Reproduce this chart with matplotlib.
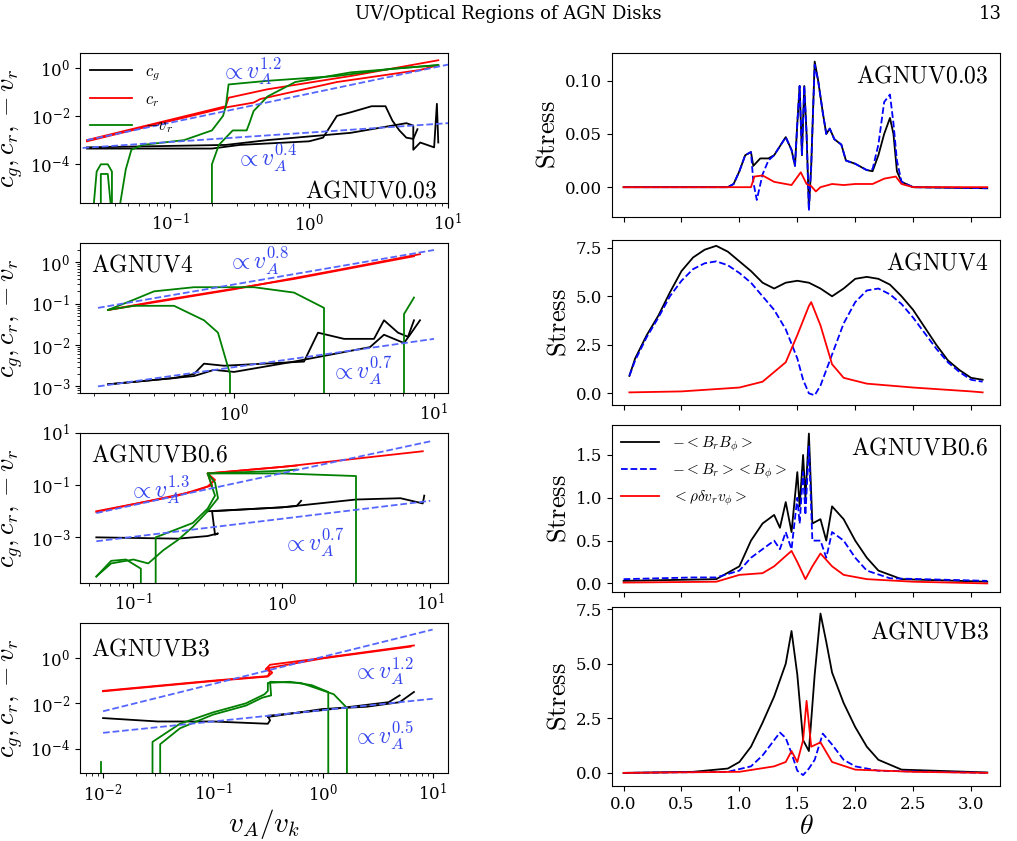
import numpy as np
import matplotlib
matplotlib.use("Agg")
import matplotlib.pyplot as plt

plt.rcParams['mathtext.fontset'] = 'cm'
plt.rcParams['font.family'] = 'serif'
plt.rcParams['font.serif'] = ['DejaVu Serif']
plt.rcParams['xtick.direction'] = 'out'

# ---------------- left column: (log10 x, log10 y) traces ----------------
p1_red = [[(-1.6,-3.0),(-0.6,-1.6),(-0.58,-1.25),(-0.3,-0.9),(0.3,-0.35),(0.93,0.3)],
          [(-1.6,-3.05),(-0.6,-1.65),(-0.4,-1.45),(-0.35,-1.3),(0.2,-0.6),(0.8,-0.1),(0.93,0.1)]]
p1_green = [[(-1.36,-5.6),(-1.32,-4.2),(-1.28,-3.4),(-1.2,-3.2),(-0.9,-3.0),(-0.7,-2.6),(-0.62,-2.0),
             (-0.6,-1.6),(-0.58,-0.7),(-0.3,-0.55),(0.2,-0.35),(0.6,-0.05),(0.93,0.1)],
            [(-0.7,-5.6),(-0.7,-4.0),(-0.65,-3.2),(-0.55,-2.6),(-0.45,-2.6),(-0.43,-2.3),(-0.4,-1.8),
             (-0.3,-1.2),(-0.1,-0.6),(0.3,-0.2),(0.93,0.1)],
            [(-1.55,-5.6),(-1.53,-4.3),(-1.5,-4.0),(-1.45,-4.0),(-1.42,-4.3),(-1.42,-5.6)],
            [(-1.5,-5.6),(-1.5,-4.4),(-1.45,-4.4),(-1.43,-5.6)]]
p1_black = [[(-1.6,-3.35),(-0.7,-3.35),(-0.5,-3.2),(0.0,-3.05),(0.1,-2.9),(0.2,-2.0),(0.3,-1.85),
             (0.45,-1.6),(0.55,-1.6),(0.6,-2.2),(0.65,-2.6),(0.7,-2.9),(0.75,-2.95),(0.78,-2.55)],
            [(-1.6,-3.3),(-0.6,-3.2),(-0.3,-3.0),(0.3,-2.7),(0.7,-2.3),(0.75,-2.4),(0.75,-3.4),
             (0.8,-3.1),(0.9,-3.3),(0.92,-1.5),(0.93,-3.1)]]
p1_fits = [[(-1.6,-3.0),(1.0,0.12)], [(-1.7,-3.35),(1.0,-2.3)]]

p2_red = [[(-0.63,-1.15),(0.0,-0.65),(0.5,-0.2),(0.93,0.2)],
          [(-0.63,-1.15),(-0.4,-0.95),(0.3,-0.4),(0.9,0.15)]]
p2_green = [[(-0.63,-1.15),(-0.5,-0.9),(-0.4,-0.7),(-0.2,-0.6),(0.1,-0.6),(0.3,-0.73),(0.45,-1.1),(0.45,-3.2)],
            [(-0.63,-1.15),(-0.5,-1.05),(-0.3,-1.05),(-0.15,-1.4),(-0.08,-1.7),(-0.05,-2.2),(-0.02,-2.7),(-0.02,-3.2)],
            [(0.85,-3.2),(0.85,-1.25),(0.9,-0.85)]]
p2_black = [[(-0.63,-2.95),(-0.3,-2.8),(-0.2,-2.7),(-0.15,-2.45),(-0.05,-2.5),(0.35,-2.4),(0.42,-1.7),
             (0.55,-1.85),(0.7,-1.85),(0.75,-1.4),(0.82,-1.7),(0.87,-1.8),(0.9,-1.4)],
            [(-0.63,-2.95),(-0.2,-2.75),(-0.1,-2.6),(0.0,-2.65),(0.3,-2.4),(0.68,-2.05),(0.75,-1.75),
             (0.85,-1.95),(0.88,-1.75),(0.93,-1.4)]]
p2_fits = [[(-0.68,-1.1),(1.0,0.3)], [(-0.68,-3.0),(1.0,-1.85)]]

p3_red = [[(-1.25,-2.0),(-0.7,-1.4),(-0.5,-1.05),(-0.45,-0.8),(-0.5,-0.55),(0.0,-0.3),(0.95,0.3)],
          [(-1.25,-2.03),(-0.6,-1.25),(-0.47,-1.0),(-0.5,-0.55),(0.1,-0.25)]]
p3_green = [[(-1.25,-4.5),(-1.15,-4.0),(-1.0,-3.85),(-0.9,-4.0),(-0.8,-3.5),(-0.7,-3.1),(-0.6,-2.6),
             (-0.5,-2.0),(-0.43,-1.5),(-0.45,-0.9),(-0.5,-0.55),(0.0,-0.45),(0.1,-0.4)],
            [(-1.25,-4.5),(-1.15,-3.9),(-1.05,-3.85),(-0.95,-4.2),(-0.95,-4.8)],
            [(-0.85,-4.8),(-0.85,-3.0),(-0.6,-2.45),(-0.5,-1.9),(-0.45,-1.4),(-0.48,-0.9),(-0.5,-0.55),
             (0.0,-0.55),(0.5,-0.65),(0.5,-4.8)]]
p3_black = [[(-1.25,-3.0),(-0.7,-3.05),(-0.5,-2.95),(-0.43,-2.85),(-0.45,-2.9),(-0.47,-2.0),
             (0.0,-1.85),(0.1,-1.8),(0.13,-1.6)],
            [(-0.5,-2.0),(0.0,-1.85),(0.5,-1.55),(0.8,-1.5),(0.95,-1.7),(0.96,-1.4)]]
p3_fits = [[(-1.25,-2.07),(1.0,0.68)], [(-1.25,-3.15),(1.0,-1.6)]]

p4_red = [[(-2.0,-1.45),(-1.0,-1.0),(-0.5,-0.8),(-0.48,-0.6),(-0.52,-0.5),(-0.48,-0.3),(0.0,0.0),(0.83,0.55)],
          [(-2.0,-1.47),(-1.0,-1.02),(-0.5,-0.82),(-0.46,-0.65),(-0.5,-0.45),(0.0,-0.02),(0.8,0.5)]]
p4_green = [[(-1.55,-5.1),(-1.55,-3.7),(-1.3,-2.9),(-1.0,-2.4),(-0.7,-2.0),(-0.53,-1.6),(-0.5,-1.45),
             (-0.5,-1.1),(-0.3,-1.05),(-0.1,-1.2),(0.05,-1.5),(0.05,-5.1)],
            [(-1.48,-5.1),(-1.48,-3.8),(-1.3,-3.1),(-1.0,-2.5),(-0.7,-2.1),(-0.55,-1.75),(-0.47,-1.65),
             (-0.48,-1.05),(-0.2,-1.1),(0.1,-1.6),(0.22,-2.2),(0.22,-5.1)],
            [(-2.02,-5.1),(-2.02,-4.6)]]
p4_black = [[(-2.0,-2.65),(-1.5,-2.8),(-1.0,-2.8),(-0.5,-2.9),(-0.48,-2.75),(-0.5,-2.55),(0.0,-2.3),
             (0.6,-1.95),(0.7,-1.65)],
            [(-0.5,-2.6),(0.0,-2.25),(0.4,-2.15),(0.7,-1.95),(0.83,-1.5)]]
p4_fits = [[(-2.0,-2.35),(1.0,1.25)], [(-2.0,-3.3),(1.0,-1.8)]]

left_panels = [
    dict(red=p1_red, green=p1_green, black=p1_black, fits=p1_fits, xlim=(-1.65, 1.0), ylim=(-5.6, 0.6),
         name='AGNUV0.03', name_pos=(0.97, 0.08, 'right'),
         ann=[('1.2', 0.38, 0.88), ('0.4', 0.42, 0.3)], yticks=[-4, -2, 0]),
    dict(red=p2_red, green=p2_green, black=p2_black, fits=p2_fits, xlim=(-0.77, 1.07), ylim=(-3.16, 0.47),
         name='AGNUV4', name_pos=(0.03, 0.85, 'left'),
         ann=[('0.8', 0.4, 0.88), ('0.7', 0.68, 0.15)], yticks=[-3, -2, -1, 0]),
    dict(red=p3_red, green=p3_green, black=p3_black, fits=p3_fits, xlim=(-1.36, 1.12), ylim=(-4.75, 1.0),
         name='AGNUVB0.6', name_pos=(0.03, 0.85, 'left'),
         ann=[('1.3', 0.13, 0.62), ('0.7', 0.55, 0.27)], yticks=[-3, -1, 1]),
    dict(red=p4_red, green=p4_green, black=p4_black, fits=p4_fits, xlim=(-2.21, 1.14), ylim=(-5.07, 1.54),
         name='AGNUVB3', name_pos=(0.03, 0.83, 'left'),
         ann=[('1.2', 0.74, 0.68), ('0.5', 0.74, 0.25)], yticks=[-4, -2, 0]),
]

# ---------------- right column: (theta, stress) ----------------
r1_black = [(0,0),(0.9,0),(0.95,0.003),(1.0,0.015),(1.05,0.03),(1.1,0.033),(1.12,0.02),(1.18,0.027),
            (1.25,0.027),(1.3,0.03),(1.4,0.047),(1.45,0.035),(1.48,0.02),(1.5,0.06),(1.52,0.095),
            (1.54,0.03),(1.56,0.095),(1.58,0.05),(1.6,-0.02),(1.62,0.02),(1.65,0.118),(1.68,0.1),
            (1.72,0.07),(1.75,0.05),(1.78,0.055),(1.82,0.045),(1.88,0.04),(1.92,0.025),(2.0,0.022),
            (2.1,0.016),(2.15,0.015),(2.2,0.03),(2.25,0.05),(2.3,0.065),(2.33,0.05),(2.36,0.015),
            (2.4,0.005),(2.5,0.0),(3.14,-0.001)]
r1_blue = [(0,0),(0.9,0),(0.95,0.003),(1.0,0.015),(1.05,0.03),(1.1,0.033),(1.12,0.005),(1.15,-0.012),
           (1.2,0.012),(1.25,0.025),(1.3,0.03),(1.4,0.047),(1.45,0.035),(1.48,0.02),(1.5,0.06),
           (1.52,0.095),(1.54,0.03),(1.56,0.095),(1.58,0.05),(1.6,-0.022),(1.62,0.02),(1.65,0.115),
           (1.68,0.1),(1.72,0.07),(1.75,0.05),(1.78,0.055),(1.82,0.045),(1.88,0.04),(1.92,0.025),
           (2.0,0.022),(2.1,0.016),(2.15,0.017),(2.2,0.04),(2.25,0.08),(2.3,0.087),(2.33,0.06),
           (2.36,0.025),(2.4,0.005),(2.5,0.0),(3.14,-0.001)]
r1_red = [(0,0),(1.1,0.0),(1.13,0.01),(1.2,0.011),(1.3,0.005),(1.45,0.002),(1.53,0.014),(1.58,0.003),
          (1.62,0.001),(1.66,-0.004),(1.7,0.0),(1.8,0.003),(1.9,0.002),(2.0,0.003),(2.15,0.003),
          (2.25,0.008),(2.35,0.01),(2.4,0.003),(2.5,0.0),(3.14,0.0)]

r2_black = [(0.05,0.9),(0.1,1.8),(0.2,3.0),(0.3,4.0),(0.4,5.2),(0.5,6.3),(0.6,7.0),(0.7,7.4),(0.8,7.6),
            (0.9,7.3),(1.0,6.8),(1.1,6.3),(1.2,5.7),(1.3,5.4),(1.4,5.7),(1.5,5.8),(1.6,5.7),(1.7,5.4),
            (1.8,5.0),(1.9,5.4),(2.0,5.9),(2.1,6.0),(2.2,5.9),(2.3,5.6),(2.4,5.0),(2.5,4.3),(2.6,3.4),
            (2.7,2.5),(2.8,1.7),(2.9,1.2),(3.0,0.8),(3.1,0.7)]
r2_blue = [(0.05,0.9),(0.1,1.7),(0.2,2.9),(0.3,3.9),(0.4,5.0),(0.5,5.8),(0.6,6.4),(0.7,6.7),(0.8,6.8),
           (0.9,6.6),(1.0,6.2),(1.1,5.7),(1.2,5.0),(1.3,4.3),(1.4,3.3),(1.5,1.8),(1.55,0.7),(1.6,0.0),
           (1.65,-0.1),(1.7,0.4),(1.8,2.0),(1.9,3.6),(2.0,4.7),(2.1,5.3),(2.2,5.4),(2.3,5.1),(2.4,4.6),
           (2.5,3.9),(2.6,3.1),(2.7,2.3),(2.8,1.6),(2.9,1.1),(3.0,0.7),(3.1,0.6)]
r2_red = [(0.05,0.05),(0.5,0.1),(1.0,0.3),(1.2,0.6),(1.4,1.6),(1.5,3.0),(1.6,4.5),(1.62,4.7),(1.7,3.5),
          (1.8,1.5),(1.9,0.8),(2.1,0.5),(2.5,0.3),(3.0,0.1),(3.1,0.05)]

r3_black = [(0,0.03),(0.8,0.05),(1.0,0.2),(1.1,0.5),(1.2,0.7),(1.3,0.8),(1.35,0.65),(1.4,0.95),(1.45,0.6),
            (1.5,1.3),(1.52,0.9),(1.55,1.5),(1.57,1.0),(1.6,1.75),(1.63,0.7),(1.7,0.75),(1.75,0.5),
            (1.8,0.9),(1.9,0.75),(2.0,0.5),(2.1,0.3),(2.2,0.15),(2.4,0.05),(3.14,0.02)]
r3_blue = [(0,0.05),(0.6,0.07),(0.8,0.07),(1.0,0.15),(1.1,0.3),(1.2,0.4),(1.3,0.5),(1.35,0.4),(1.4,0.6),
           (1.45,0.4),(1.5,1.0),(1.52,0.7),(1.55,1.3),(1.57,0.8),(1.6,1.6),(1.63,0.5),(1.7,0.5),
           (1.75,0.3),(1.8,0.6),(1.9,0.5),(2.0,0.3),(2.1,0.15),(2.3,0.06),(3.14,0.03)]
r3_red = [(0,0.01),(0.8,0.02),(1.0,0.1),(1.2,0.12),(1.3,0.2),(1.45,0.38),(1.5,0.25),(1.57,0.05),
          (1.63,0.2),(1.7,0.35),(1.8,0.2),(1.9,0.1),(2.1,0.05),(2.5,0.02),(3.14,0.0)]

r4_black = [(0,0.0),(0.6,0.05),(0.9,0.2),(1.0,0.5),(1.1,1.2),(1.2,2.3),(1.3,3.5),(1.4,5.0),(1.45,6.5),
            (1.5,4.5),(1.55,1.5),(1.6,1.0),(1.65,4.5),(1.7,7.3),(1.75,6.0),(1.8,4.6),(1.9,3.2),(2.0,2.1),
            (2.1,1.2),(2.2,0.6),(2.4,0.15),(3.14,0.02)]
r4_blue = [(0,0),(0.9,0.05),(1.1,0.3),(1.2,0.8),(1.3,1.5),(1.35,1.85),(1.4,1.6),(1.45,0.9),(1.5,0.1),
           (1.55,-0.1),(1.6,0.2),(1.65,0.6),(1.72,1.8),(1.8,1.3),(1.9,0.6),(2.0,0.3),(2.2,0.1),(3.14,0)]
r4_red = [(0,0),(1.0,0.05),(1.3,0.3),(1.4,0.5),(1.45,1.0),(1.5,0.5),(1.55,1.5),(1.58,3.3),(1.62,1.2),
          (1.7,1.4),(1.8,0.5),(2.0,0.15),(2.5,0.05),(3.14,0)]

right_panels = [
    dict(black=r1_black, blue=r1_blue, red=r1_red, ylim=(-0.028, 0.126), yticks=[0.0, 0.05, 0.10],
         fmt='%.2f', name='AGNUV0.03'),
    dict(black=r2_black, blue=r2_blue, red=r2_red, ylim=(-0.6, 7.9), yticks=[0.0, 2.5, 5.0, 7.5],
         fmt='%.1f', name='AGNUV4'),
    dict(black=r3_black, blue=r3_blue, red=r3_red, ylim=(-0.1, 1.85), yticks=[0.0, 0.5, 1.0, 1.5],
         fmt='%.1f', name='AGNUVB0.6'),
    dict(black=r4_black, blue=r4_blue, red=r4_red, ylim=(-0.6, 7.6), yticks=[0.0, 2.5, 5.0, 7.5],
         fmt='%.1f', name='AGNUVB3'),
]

fig = plt.figure(figsize=(10.17, 8.41), dpi=100)
W, H = 1017, 841
left_rows = [(53, 203), (243, 393), (433, 583), (623, 773)]
right_rows = [(53, 217), (240, 405), (425, 592), (607, 786)]

def pts(seg):
    a = np.array(seg, dtype=float)
    return 10 ** a[:, 0], 10 ** a[:, 1]

for i, (p, (t, b)) in enumerate(zip(left_panels, left_rows)):
    ax = fig.add_axes([80 / W, 1 - b / H, (448 - 80) / W, (b - t) / H])
    ax.set_xscale('log'); ax.set_yscale('log')
    for k, seg in enumerate(p['black']):
        ax.plot(*pts(seg), color='black', lw=1.3, label='$c_g$' if k == 0 else None)
    for k, seg in enumerate(p['red']):
        ax.plot(*pts(seg), color='red', lw=1.3, label='$c_r$' if k == 0 else None)
    for k, seg in enumerate(p['green']):
        ax.plot(*pts(seg), color='green', lw=1.3, label='$-v_r$' if k == 0 else None)
    for seg in p['fits']:
        ax.plot(*pts(seg), color='#5566ff', lw=1.3, ls='--')
    ax.set_xlim(10 ** p['xlim'][0], 10 ** p['xlim'][1])
    ax.set_ylim(10 ** p['ylim'][0], 10 ** p['ylim'][1])
    ax.set_yticks([10.0 ** v for v in p['yticks']])
    ax.tick_params(labelsize=12)
    for txt, fx, fy in p['ann']:
        ax.text(fx, fy, r'$\propto v_A^{%s}$' % txt, transform=ax.transAxes, color='#3344ee',
                fontsize=17, ha='left', va='center')
    nx, ny, ha = p['name_pos']
    ax.text(nx, ny, r'$\mathrm{%s}$' % p['name'], transform=ax.transAxes, fontsize=17, ha=ha, va='center')
    ax.set_ylabel('$c_g, c_r, -v_r$', fontsize=19)
    if i == 0:
        ax.legend(loc='upper left', frameon=False, fontsize=12, handlelength=2.5, borderaxespad=0.2)
    if i == 3:
        ax.set_xlabel('$v_A/v_k$', fontsize=21, labelpad=2)

for i, (p, (t, b)) in enumerate(zip(right_panels, right_rows)):
    ax = fig.add_axes([612 / W, 1 - b / H, (1000 - 612) / W, (b - t) / H])
    for key, col, ls, lab in [('black', 'black', '-', r'$-<B_rB_\phi>$'),
                              ('blue', 'blue', '--', r'$-<B_r><B_\phi>$'),
                              ('red', 'red', '-', r'$<\rho\delta v_r v_\phi>$')]:
        a = np.array(p[key])
        ax.plot(a[:, 0], a[:, 1], color=col, ls=ls, lw=1.3, label=lab)
    ax.set_xlim(-0.1, 3.25)
    ax.set_ylim(*p['ylim'])
    ax.set_yticks(p['yticks'])
    ax.yaxis.set_major_formatter(matplotlib.ticker.FormatStrFormatter(p['fmt']))
    ax.set_xticks([0.0, 0.5, 1.0, 1.5, 2.0, 2.5, 3.0])
    ax.tick_params(labelsize=12)
    ax.set_ylabel(r'$\mathrm{Stress}$', fontsize=19)
    ax.text(0.97, 0.86, r'$\mathrm{%s}$' % p['name'], transform=ax.transAxes, fontsize=17, ha='right', va='center')
    if i == 2:
        ax.legend(loc='upper left', frameon=False, fontsize=11, handlelength=2.5, borderaxespad=0.2)
    if i < 3:
        ax.tick_params(labelbottom=False)
    else:
        ax.set_xlabel(r'$\theta$', fontsize=20, labelpad=0)

fig.text(0.5, 1 - 14 / H, 'UV/Optical Regions of AGN Disks', ha='center', va='center', fontsize=13)
fig.text(0.985, 1 - 14 / H, '13', ha='right', va='center', fontsize=13)

fig.savefig('out.png', dpi=100)
